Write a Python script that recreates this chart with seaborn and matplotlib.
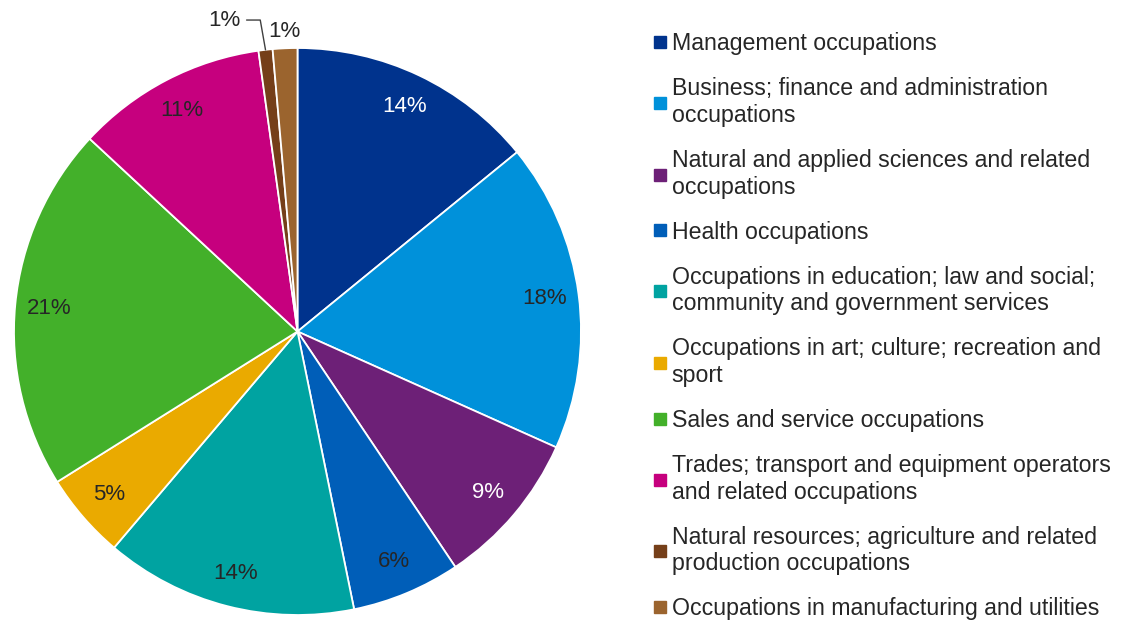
import matplotlib
matplotlib.use('Agg')

import numpy as np
import matplotlib.pyplot as plt
import seaborn as sns
from matplotlib.lines import Line2D

# occupation groups, clockwise from 12 o'clock
groups = [
    'Management occupations',
    'Business; finance and administration\noccupations',
    'Natural and applied sciences and related\noccupations',
    'Health occupations',
    'Occupations in education; law and social;\ncommunity and government services',
    'Occupations in art; culture; recreation and\nsport',
    'Sales and service occupations',
    'Trades; transport and equipment operators\nand related occupations',
    'Natural resources; agriculture and related\nproduction occupations',
    'Occupations in manufacturing and utilities',
]
shares = [14.1, 17.6, 8.9, 6.2, 14.4, 4.9, 20.8, 10.9, 0.8, 1.4]
colors = ['#00338D', '#0091DA', '#6D2077', '#005EB8', '#00A3A1',
          '#EAAA00', '#43B02A', '#C6007E', '#753F19', '#9B642E']
white_text = [0, 2]   # slices whose labels are printed in white

sns.set_theme(style='white')
plt.rcParams['font.family'] = ['Liberation Sans', 'DejaVu Sans']
pal = sns.color_palette(colors)

fig = plt.figure(figsize=(11.34, 6.22), dpi=100)
ax = fig.add_axes([13 / 1134, 7 / 622, 569 / 1134, 567 / 622])

wedges, texts, autotexts = ax.pie(
    shares, colors=pal, startangle=90, counterclock=False,
    autopct=lambda p: '%.0f%%' % p if p > 3 else '',
    pctdistance=0.88, radius=1.0,
    wedgeprops=dict(edgecolor='white', linewidth=1.3),
    textprops=dict(fontsize=16, color='#262626'))
for i in white_text:
    autotexts[i].set_color('white')

ax.set_xlim(-1, 1)
ax.set_ylim(-1, 1)
ax.set_aspect('equal')

# the two tiny slices get outside labels
total = float(sum(shares))
ends = 90 - 360 * np.cumsum(shares) / total
starts = np.concatenate([[90], ends[:-1]])
mids = (starts + ends) / 2

i = 8
th = np.deg2rad(mids[i])
tip = (np.cos(th) * 1.0, np.sin(th) * 1.0)
ax.annotate('%.0f%%' % shares[i], xy=tip,
            xytext=(tip[0] - 0.145, tip[1] + 0.105),
            ha='center', va='center', fontsize=16, color='#262626',
            arrowprops=dict(arrowstyle='-', color='#404040', lw=1,
                            connectionstyle='angle,angleA=0,angleB=100', shrinkA=2, shrinkB=0))
i = 9
th = np.deg2rad(mids[i])
ax.text(np.cos(th) * 1.06, np.sin(th) * 1.06, '%.0f%%' % shares[i],
        ha='center', va='center', fontsize=16, color='#262626')

handles = [Line2D([0], [0], marker='s', linestyle='', markersize=8,
                  markerfacecolor=c, markeredgecolor=c) for c in pal]
fig.legend(handles, groups, loc='upper left', bbox_to_anchor=(644 / 1134, 599 / 622),
           frameon=False, fontsize=16.7, labelspacing=0.95, handlelength=0.6,
           handletextpad=0.2, labelcolor='#262626', borderaxespad=0)

fig.savefig('out.png', dpi=100)
